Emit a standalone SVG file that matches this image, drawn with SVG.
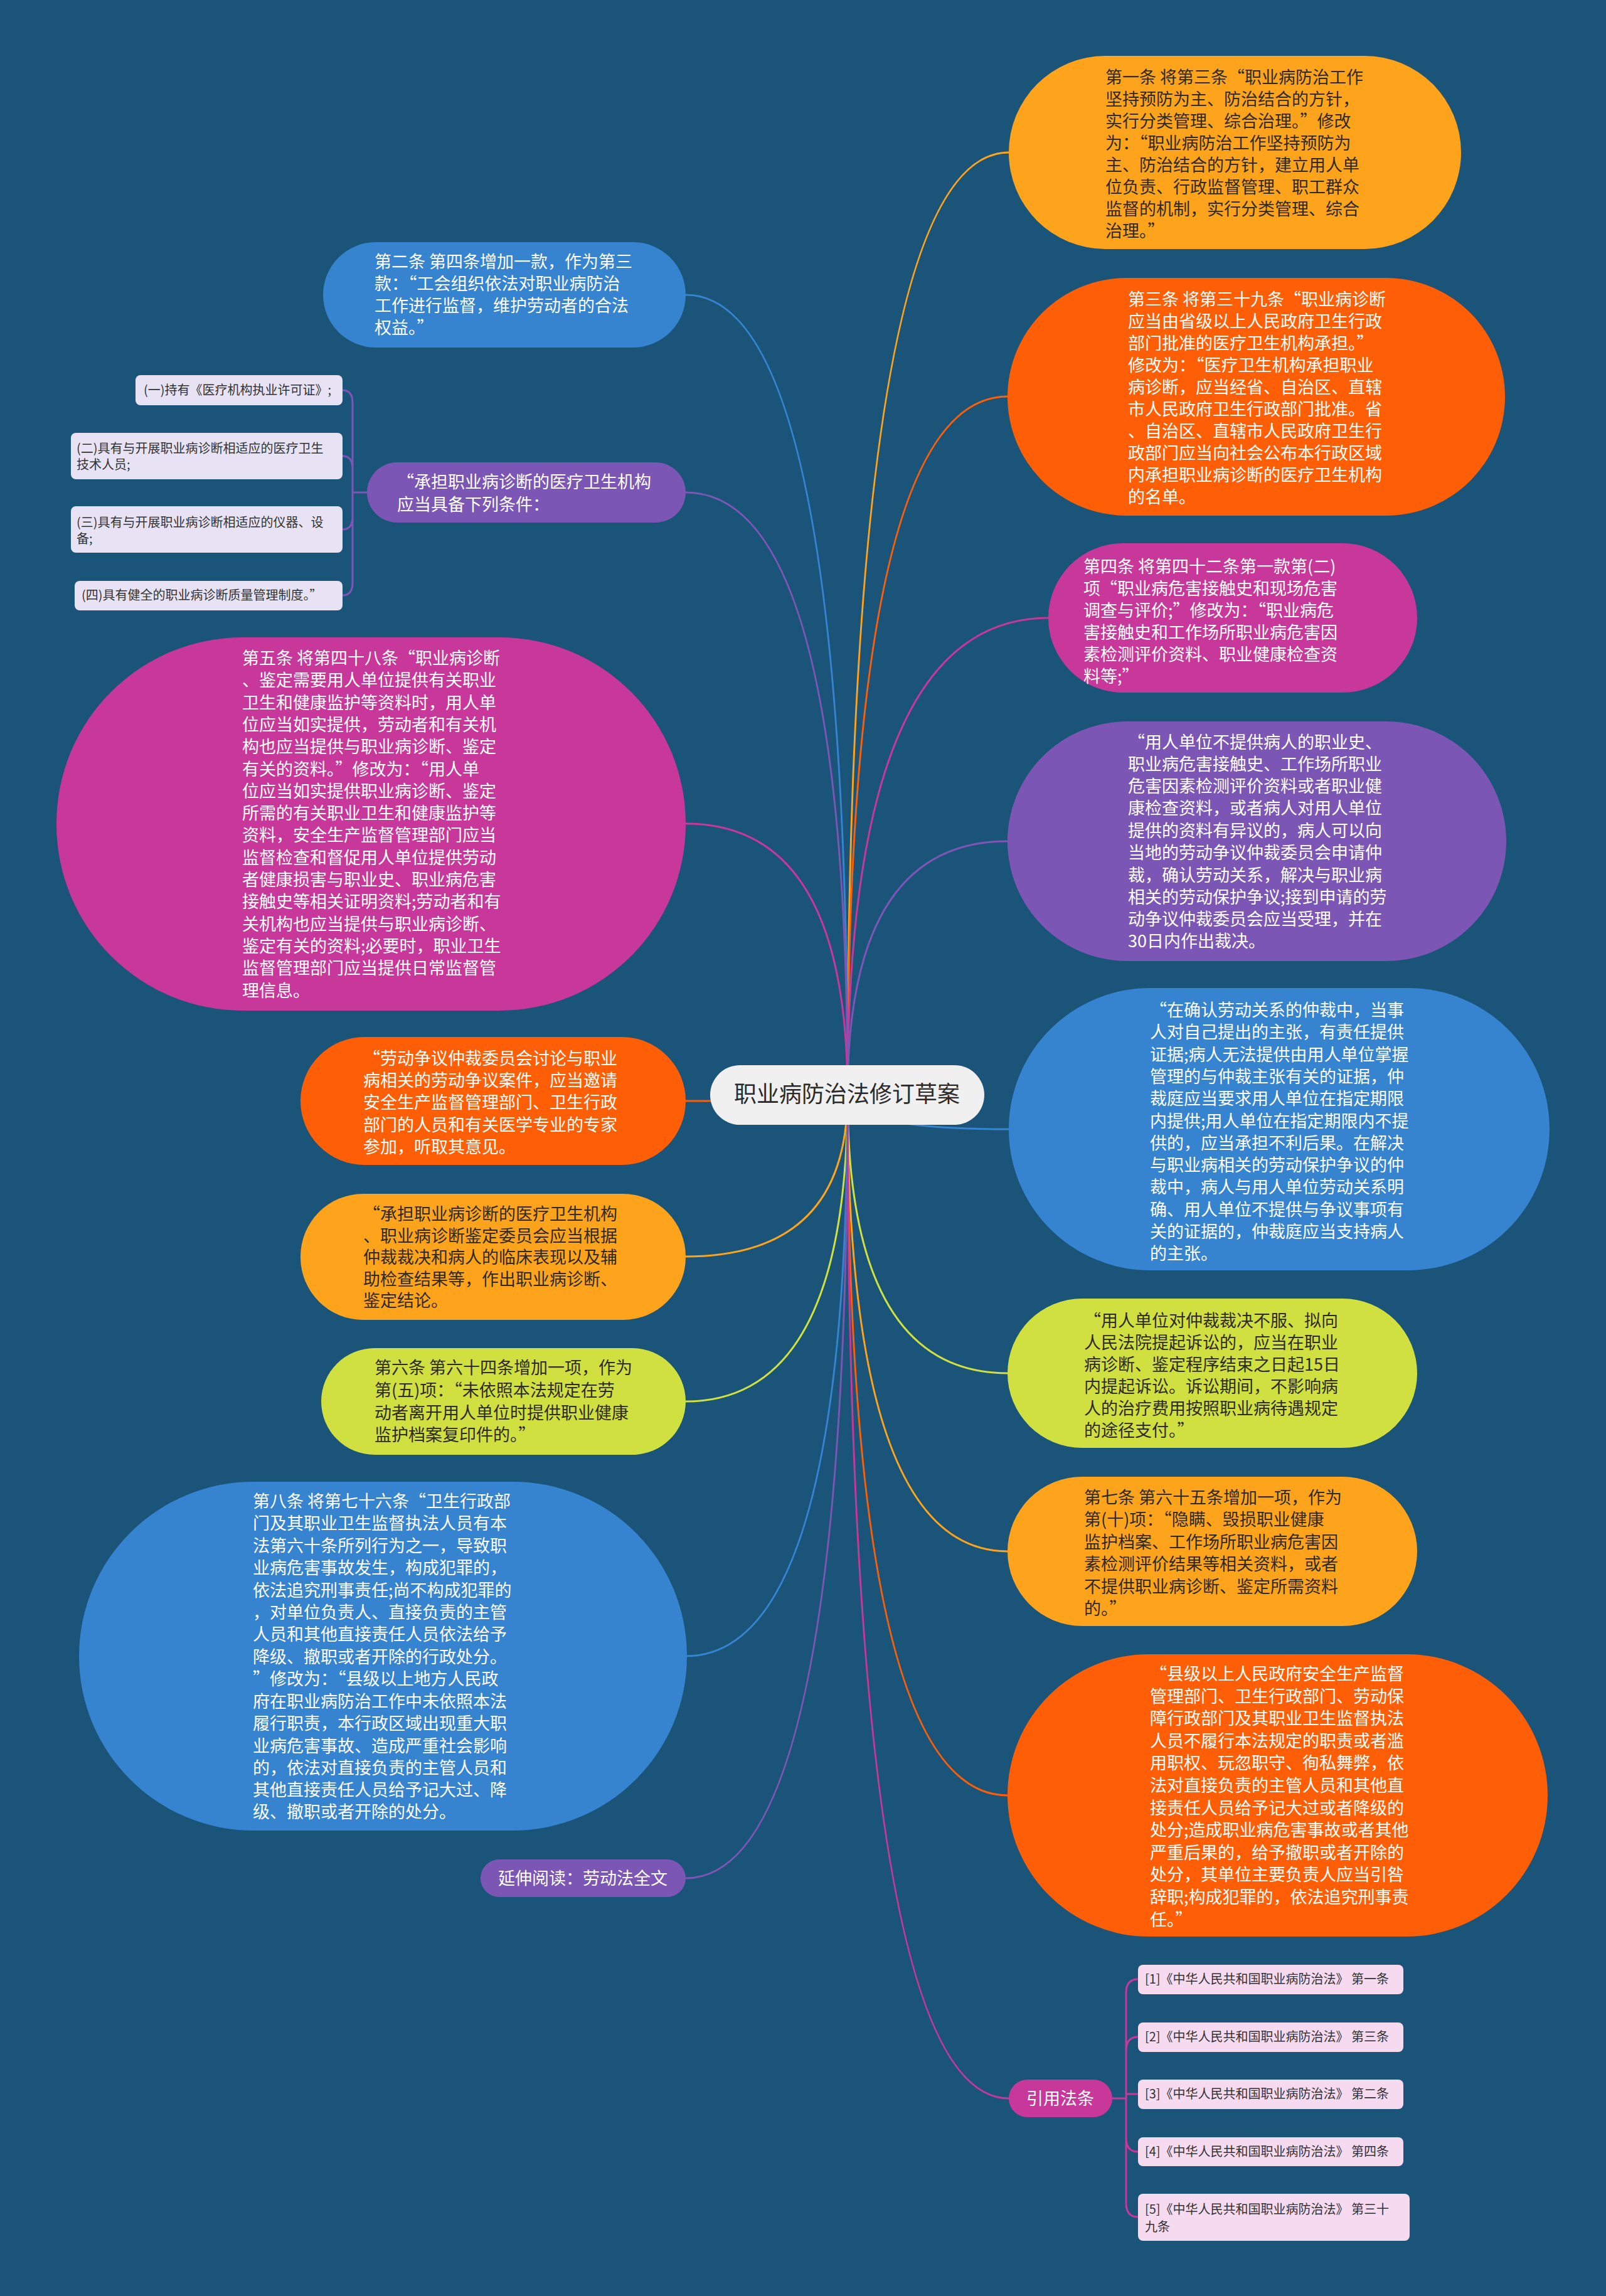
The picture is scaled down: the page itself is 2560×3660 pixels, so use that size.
<svg xmlns="http://www.w3.org/2000/svg" width="2560" height="3660" viewBox="0 0 2560 3660" xml:lang="zh-CN" lang="zh-CN">
<style>
.t{font-family:"Noto Sans CJK SC","Noto Sans",sans-serif;font-size:27px}
.s{font-family:"Noto Sans CJK SC","Noto Sans",sans-serif;font-size:20px;fill:#333}
.w{fill:#ffffff}
.d{fill:#2e2a24}
.c{fill:none;stroke-width:3;stroke-linecap:round}
.orange{fill:#fea41c}
.red{fill:#fe5e05}
.mag{fill:#c8379a}
.pur{fill:#7b56b4}
.blue{fill:#3683d0}
.lime{fill:#d0e040}
</style>
<rect x="0" y="0" width="2560" height="3660" fill="#1b5479"/>
<g id="connectors">
<path class="c" stroke="#fea41c" d="M1351 1745 Q1351 243 1608 243"/>
<path class="c" stroke="#fe5e05" d="M1351 1745 Q1351 632 1606 632"/>
<path class="c" stroke="#c8379a" d="M1351 1745 Q1351 985 1671 985"/>
<path class="c" stroke="#7b56b4" d="M1351 1745 Q1351 1341 1606 1341"/>
<path class="c" stroke="#3683d0" d="M1351 1745 Q1351 1800 1608 1800"/>
<path class="c" stroke="#d0e040" d="M1351 1745 Q1351 2189 1606 2189"/>
<path class="c" stroke="#fea41c" d="M1351 1745 Q1351 2473 1606 2473"/>
<path class="c" stroke="#fe5e05" d="M1351 1745 Q1351 2862 1606 2862"/>
<path class="c" stroke="#c8379a" d="M1351 1745 Q1351 3345 1608 3345"/>
<path class="c" stroke="#3683d0" d="M1351 1745 Q1351 470 1093 470"/>
<path class="c" stroke="#7b56b4" d="M1351 1745 Q1351 785 1093 785"/>
<path class="c" stroke="#c8379a" d="M1351 1745 Q1351 1313 1093 1313"/>
<path class="c" stroke="#fe5e05" d="M1351 1745 Q1351 1755 1093 1755"/>
<path class="c" stroke="#fea41c" d="M1351 1745 Q1351 2003 1093 2003"/>
<path class="c" stroke="#d0e040" d="M1351 1745 Q1351 2234 1093 2234"/>
<path class="c" stroke="#3683d0" d="M1351 1745 Q1351 2640 1093 2640"/>
<path class="c" stroke="#7b56b4" d="M1351 1745 Q1351 2994 1093 2994"/>
<path class="c" stroke="#7b56b4" d="M585 785 H562 M562 785 V642 Q562 622 546 622 M562 785 V747 Q562 727 546 727 M562 785 V824 Q562 844 546 844 M562 785 V929 Q562 949 546 949"/>
<path class="c" stroke="#c8379a" d="M1773 3345 H1795 M1795 3345 V3177 Q1795 3155 1814 3155 M1795 3345 V3269 Q1795 3247 1814 3247 M1795 3345 V3338 H1814 M1795 3345 V3408 Q1795 3430 1814 3430 M1795 3345 V3512 Q1795 3534 1814 3534"/>
</g>
<g id="center">
<rect x="1132" y="1698" width="437" height="95" rx="47.5" fill="#f0f0f0"/>
<text x="1350" y="1757" text-anchor="middle" font-family="Noto Sans CJK SC, Noto Sans, sans-serif" font-size="36" fill="#2b2b2b">职业病防治法修订草案</text>
</g>
<g id="r1">
<rect class="orange" x="1608" y="89" width="721" height="308" rx="154"/>
<text class="t d"><tspan x="1762" y="133">第一条 将第三条“职业病防治工作</tspan><tspan x="1762" y="168">坚持预防为主、防治结合的方针，</tspan><tspan x="1762" y="203">实行分类管理、综合治理。”修改</tspan><tspan x="1762" y="238">为：“职业病防治工作坚持预防为</tspan><tspan x="1762" y="273">主、防治结合的方针，建立用人单</tspan><tspan x="1762" y="308">位负责、行政监督管理、职工群众</tspan><tspan x="1762" y="343">监督的机制，实行分类管理、综合</tspan><tspan x="1762" y="378">治理。”</tspan></text>
</g>
<g id="r2">
<rect class="red" x="1606" y="443" width="793" height="379" rx="189.5"/>
<text class="t w"><tspan x="1798" y="487">第三条 将第三十九条“职业病诊断</tspan><tspan x="1798" y="522">应当由省级以上人民政府卫生行政</tspan><tspan x="1798" y="557">部门批准的医疗卫生机构承担。”</tspan><tspan x="1798" y="592">修改为：“医疗卫生机构承担职业</tspan><tspan x="1798" y="627">病诊断，应当经省、自治区、直辖</tspan><tspan x="1798" y="662">市人民政府卫生行政部门批准。省</tspan><tspan x="1798" y="697">、自治区、直辖市人民政府卫生行</tspan><tspan x="1798" y="732">政部门应当向社会公布本行政区域</tspan><tspan x="1798" y="767">内承担职业病诊断的医疗卫生机构</tspan><tspan x="1798" y="802">的名单。</tspan></text>
</g>
<g id="r3">
<rect class="mag" x="1671" y="866" width="588" height="238" rx="119"/>
<text class="t w"><tspan x="1727" y="913">第四条 将第四十二条第一款第(二)</tspan><tspan x="1727" y="948">项“职业病危害接触史和现场危害</tspan><tspan x="1727" y="983">调查与评价;”修改为：“职业病危</tspan><tspan x="1727" y="1018">害接触史和工作场所职业病危害因</tspan><tspan x="1727" y="1053">素检测评价资料、职业健康检查资</tspan><tspan x="1727" y="1088">料等;”</tspan></text>
</g>
<g id="r4">
<rect class="pur" x="1606" y="1150" width="795" height="382" rx="191"/>
<text class="t w"><tspan x="1798" y="1193">“用人单位不提供病人的职业史、</tspan><tspan x="1798" y="1228">职业病危害接触史、工作场所职业</tspan><tspan x="1798" y="1263">危害因素检测评价资料或者职业健</tspan><tspan x="1798" y="1298">康检查资料，或者病人对用人单位</tspan><tspan x="1798" y="1334">提供的资料有异议的，病人可以向</tspan><tspan x="1798" y="1369">当地的劳动争议仲裁委员会申请仲</tspan><tspan x="1798" y="1405">裁，确认劳动关系，解决与职业病</tspan><tspan x="1798" y="1440">相关的劳动保护争议;接到申请的劳</tspan><tspan x="1798" y="1475">动争议仲裁委员会应当受理，并在</tspan><tspan x="1798" y="1510">30日内作出裁决。</tspan></text>
</g>
<g id="r5">
<rect class="blue" x="1608" y="1575" width="862" height="450" rx="225"/>
<text class="t w"><tspan x="1833" y="1620">“在确认劳动关系的仲裁中，当事</tspan><tspan x="1833" y="1655">人对自己提出的主张，有责任提供</tspan><tspan x="1833" y="1691">证据;病人无法提供由用人单位掌握</tspan><tspan x="1833" y="1726">管理的与仲裁主张有关的证据，仲</tspan><tspan x="1833" y="1761">裁庭应当要求用人单位在指定期限</tspan><tspan x="1833" y="1797">内提供;用人单位在指定期限内不提</tspan><tspan x="1833" y="1832">供的，应当承担不利后果。在解决</tspan><tspan x="1833" y="1867">与职业病相关的劳动保护争议的仲</tspan><tspan x="1833" y="1902">裁中，病人与用人单位劳动关系明</tspan><tspan x="1833" y="1938">确、用人单位不提供与争议事项有</tspan><tspan x="1833" y="1973">关的证据的，仲裁庭应当支持病人</tspan><tspan x="1833" y="2008">的主张。</tspan></text>
</g>
<g id="r6">
<rect class="lime" x="1606" y="2070" width="653" height="238" rx="119"/>
<text class="t d"><tspan x="1728" y="2115">“用人单位对仲裁裁决不服、拟向</tspan><tspan x="1728" y="2150">人民法院提起诉讼的，应当在职业</tspan><tspan x="1728" y="2185">病诊断、鉴定程序结束之日起15日</tspan><tspan x="1728" y="2220">内提起诉讼。诉讼期间，不影响病</tspan><tspan x="1728" y="2255">人的治疗费用按照职业病待遇规定</tspan><tspan x="1728" y="2290">的途径支付。”</tspan></text>
</g>
<g id="r7">
<rect class="orange" x="1606" y="2354" width="653" height="238" rx="119"/>
<text class="t d"><tspan x="1728" y="2397">第七条 第六十五条增加一项，作为</tspan><tspan x="1728" y="2432">第(十)项：“隐瞒、毁损职业健康</tspan><tspan x="1728" y="2468">监护档案、工作场所职业病危害因</tspan><tspan x="1728" y="2503">素检测评价结果等相关资料，或者</tspan><tspan x="1728" y="2539">不提供职业病诊断、鉴定所需资料</tspan><tspan x="1728" y="2574">的。”</tspan></text>
</g>
<g id="r8">
<rect class="red" x="1606" y="2637" width="861" height="450" rx="225"/>
<text class="t w"><tspan x="1833" y="2678">“县级以上人民政府安全生产监督</tspan><tspan x="1833" y="2714">管理部门、卫生行政部门、劳动保</tspan><tspan x="1833" y="2749">障行政部门及其职业卫生监督执法</tspan><tspan x="1833" y="2785">人员不履行本法规定的职责或者滥</tspan><tspan x="1833" y="2820">用职权、玩忽职守、徇私舞弊，依</tspan><tspan x="1833" y="2856">法对直接负责的主管人员和其他直</tspan><tspan x="1833" y="2892">接责任人员给予记大过或者降级的</tspan><tspan x="1833" y="2927">处分;造成职业病危害事故或者其他</tspan><tspan x="1833" y="2963">严重后果的，给予撤职或者开除的</tspan><tspan x="1833" y="2998">处分，其单位主要负责人应当引咎</tspan><tspan x="1833" y="3034">辞职;构成犯罪的，依法追究刑事责</tspan><tspan x="1833" y="3070">任。”</tspan></text>
</g>
<g id="refs">
<rect class="mag" x="1608" y="3315" width="165" height="60" rx="30"/>
<text class="t w" x="1690" y="3355" text-anchor="middle">引用法条</text>
</g>
<g id="ref1">
<rect x="1814" y="3132" width="423" height="47" rx="8" fill="#f5daf0"/>
<text class="s" x="1825" y="3162">[1]《中华人民共和国职业病防治法》 第一条</text>
</g>
<g id="ref2">
<rect x="1814" y="3224" width="423" height="47" rx="8" fill="#f5daf0"/>
<text class="s" x="1825" y="3254">[2]《中华人民共和国职业病防治法》 第三条</text>
</g>
<g id="ref3">
<rect x="1814" y="3315" width="423" height="47" rx="8" fill="#f5daf0"/>
<text class="s" x="1825" y="3345">[3]《中华人民共和国职业病防治法》 第二条</text>
</g>
<g id="ref4">
<rect x="1814" y="3407" width="423" height="46" rx="8" fill="#f5daf0"/>
<text class="s" x="1825" y="3437">[4]《中华人民共和国职业病防治法》 第四条</text>
</g>
<g id="ref5">
<rect x="1814" y="3497" width="433" height="75" rx="8" fill="#f5daf0"/>
<text class="s"><tspan x="1825" y="3529">[5]《中华人民共和国职业病防治法》 第三十</tspan><tspan x="1825" y="3557">九条</tspan></text>
</g>
<g id="l1">
<rect class="blue" x="515" y="386" width="578" height="168" rx="84"/>
<text class="t w"><tspan x="597" y="427">第二条 第四条增加一款，作为第三</tspan><tspan x="597" y="462">款：“工会组织依法对职业病防治</tspan><tspan x="597" y="497">工作进行监督，维护劳动者的合法</tspan><tspan x="597" y="532">权益。”</tspan></text>
</g>
<g id="l2">
<rect class="pur" x="585" y="737" width="508" height="96" rx="48"/>
<text class="t w"><tspan x="633" y="778">“承担职业病诊断的医疗卫生机构</tspan><tspan x="633" y="814">应当具备下列条件：</tspan></text>
</g>
<g id="l2c1">
<rect x="216" y="598" width="330" height="48" rx="8" fill="#e8e3f4"/>
<text class="s" x="229" y="629">(一)持有《医疗机构执业许可证》;</text>
</g>
<g id="l2c2">
<rect x="113" y="690" width="433" height="74" rx="8" fill="#e8e3f4"/>
<text class="s"><tspan x="122" y="722">(二)具有与开展职业病诊断相适应的医疗卫生</tspan><tspan x="122" y="748">技术人员;</tspan></text>
</g>
<g id="l2c3">
<rect x="113" y="807" width="433" height="74" rx="8" fill="#e8e3f4"/>
<text class="s"><tspan x="122" y="840">(三)具有与开展职业病诊断相适应的仪器、设</tspan><tspan x="122" y="866">备;</tspan></text>
</g>
<g id="l2c4">
<rect x="119" y="926" width="427" height="47" rx="8" fill="#e8e3f4"/>
<text class="s" x="130" y="956">(四)具有健全的职业病诊断质量管理制度。”</text>
</g>
<g id="l3">
<rect class="mag" x="90" y="1016" width="1003" height="595" rx="297"/>
<text class="t w"><tspan x="386" y="1059">第五条 将第四十八条“职业病诊断</tspan><tspan x="386" y="1094">、鉴定需要用人单位提供有关职业</tspan><tspan x="386" y="1130">卫生和健康监护等资料时，用人单</tspan><tspan x="386" y="1165">位应当如实提供，劳动者和有关机</tspan><tspan x="386" y="1200">构也应当提供与职业病诊断、鉴定</tspan><tspan x="386" y="1236">有关的资料。”修改为：“用人单</tspan><tspan x="386" y="1271">位应当如实提供职业病诊断、鉴定</tspan><tspan x="386" y="1306">所需的有关职业卫生和健康监护等</tspan><tspan x="386" y="1341">资料，安全生产监督管理部门应当</tspan><tspan x="386" y="1377">监督检查和督促用人单位提供劳动</tspan><tspan x="386" y="1412">者健康损害与职业史、职业病危害</tspan><tspan x="386" y="1447">接触史等相关证明资料;劳动者和有</tspan><tspan x="386" y="1483">关机构也应当提供与职业病诊断、</tspan><tspan x="386" y="1518">鉴定有关的资料;必要时，职业卫生</tspan><tspan x="386" y="1553">监督管理部门应当提供日常监督管</tspan><tspan x="386" y="1589">理信息。</tspan></text>
</g>
<g id="l4">
<rect class="red" x="479" y="1653" width="614" height="204" rx="102"/>
<text class="t w"><tspan x="579" y="1697">“劳动争议仲裁委员会讨论与职业</tspan><tspan x="579" y="1732">病相关的劳动争议案件，应当邀请</tspan><tspan x="579" y="1767">安全生产监督管理部门、卫生行政</tspan><tspan x="579" y="1803">部门的人员和有关医学专业的专家</tspan><tspan x="579" y="1838">参加，听取其意见。</tspan></text>
</g>
<g id="l5">
<rect class="orange" x="479" y="1903" width="614" height="201" rx="100"/>
<text class="t d"><tspan x="579" y="1945">“承担职业病诊断的医疗卫生机构</tspan><tspan x="579" y="1980">、职业病诊断鉴定委员会应当根据</tspan><tspan x="579" y="2014">仲裁裁决和病人的临床表现以及辅</tspan><tspan x="579" y="2049">助检查结果等，作出职业病诊断、</tspan><tspan x="579" y="2083">鉴定结论。</tspan></text>
</g>
<g id="l6">
<rect class="lime" x="512" y="2149" width="581" height="170" rx="85"/>
<text class="t d"><tspan x="597" y="2190">第六条 第六十四条增加一项，作为</tspan><tspan x="597" y="2226">第(五)项：“未依照本法规定在劳</tspan><tspan x="597" y="2262">动者离开用人单位时提供职业健康</tspan><tspan x="597" y="2297">监护档案复印件的。”</tspan></text>
</g>
<g id="l7">
<rect class="blue" x="126" y="2362" width="969" height="556" rx="278"/>
<text class="t w"><tspan x="403" y="2403">第八条 将第七十六条“卫生行政部</tspan><tspan x="403" y="2438">门及其职业卫生监督执法人员有本</tspan><tspan x="403" y="2474">法第六十条所列行为之一，导致职</tspan><tspan x="403" y="2509">业病危害事故发生，构成犯罪的，</tspan><tspan x="403" y="2545">依法追究刑事责任;尚不构成犯罪的</tspan><tspan x="403" y="2580">，对单位负责人、直接负责的主管</tspan><tspan x="403" y="2615">人员和其他直接责任人员依法给予</tspan><tspan x="403" y="2651">降级、撤职或者开除的行政处分。</tspan><tspan x="403" y="2686">”修改为：“县级以上地方人民政</tspan><tspan x="403" y="2722">府在职业病防治工作中未依照本法</tspan><tspan x="403" y="2757">履行职责，本行政区域出现重大职</tspan><tspan x="403" y="2793">业病危害事故、造成严重社会影响</tspan><tspan x="403" y="2828">的，依法对直接负责的主管人员和</tspan><tspan x="403" y="2863">其他直接责任人员给予记大过、降</tspan><tspan x="403" y="2898">级、撤职或者开除的处分。</tspan></text>
</g>
<g id="l8">
<rect class="pur" x="766" y="2964" width="327" height="60" rx="30"/>
<text class="t w" x="929" y="3004" text-anchor="middle">延伸阅读：劳动法全文</text>
</g>
</svg>
